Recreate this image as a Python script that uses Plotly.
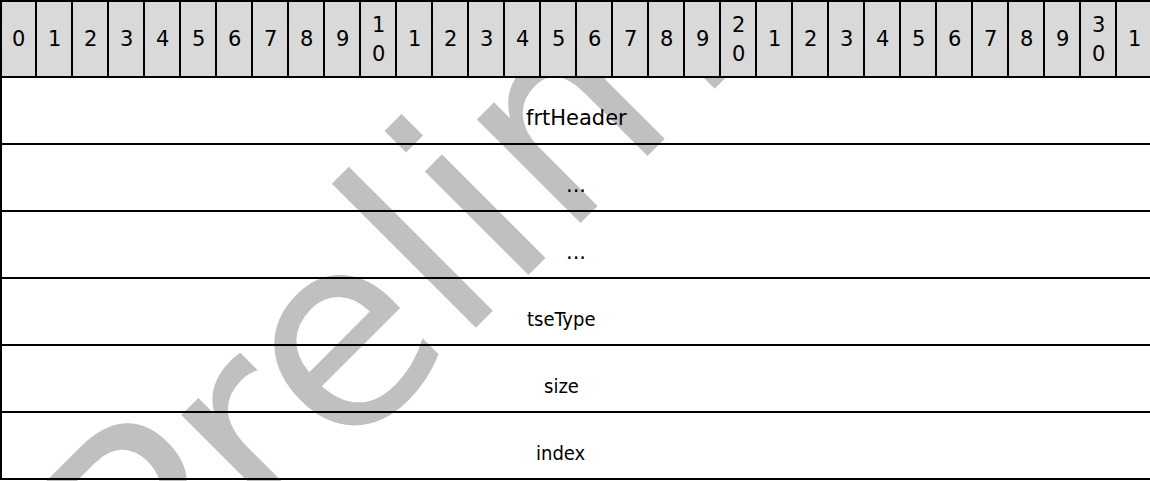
import plotly.graph_objects as go

# ---------------- data ----------------
bit_labels = ["0", "1", "2", "3", "4", "5", "6", "7", "8", "9",
              "10", "1", "2", "3", "4", "5", "6", "7", "8", "9",
              "20", "1", "2", "3", "4", "5", "6", "7", "8", "9",
              "30", "1"]
field_names = ["frtHeader", "...", "...", "tseType", "size", "index"]
field_start_bits = [0, 0, 0, 0, 0, 0]
field_bit_counts = [32, 32, 32, 32, 32, 32]
watermark_text = "Preliminary"

# ---------------- layout / style ----------------
W, H = 1150, 481
CELL_W = 36
HEADER_TOP = 1
HEADER_BOTTOM = 77
ROW_H = 67
LINE_W = 2
FONT = "DejaVu Sans, Verdana, sans-serif"
NARROW_FONT = "DejaVu Sans Condensed, Liberation Sans, sans-serif"
FONT_SIZE = 21
# per-row label styling (the last three labels use a narrower face, set slightly left)
label_font_family = [FONT, FONT, FONT, NARROW_FONT, NARROW_FONT, NARROW_FONT]
label_font_size = [21, 21, 21, 20, 20, 20]
label_xshift = [0, 0, 0, -15, -15, -15]
DIGIT_PITCH = 29
HEADER_FILL = "#d9d9d9"
WM_COLOR = "#c0c0c0"
WM_SIZE = 268
WM_CENTER = (626, 46)

fig = go.Figure()

# watermark (drawn in the plot layer so the table sits on top of it)
fig.add_trace(go.Bar(
    x=[WM_CENTER[0]], y=[2 * WM_CENTER[1]], base=[0], width=[60],
    text=[watermark_text], textposition="inside", insidetextanchor="middle",
    textangle=-45, constraintext="none", cliponaxis=False,
    textfont=dict(family=FONT, size=WM_SIZE, color=WM_COLOR),
    marker=dict(color="rgba(0,0,0,0)", line=dict(width=0)),
    hoverinfo="skip", showlegend=False,
))

shapes = []
annotations = []
n_bits = len(bit_labels)
right = n_bits * CELL_W

# header cell fills
for i in range(n_bits):
    shapes.append(dict(type="rect", layer="above", xref="x", yref="y",
                       x0=i * CELL_W, x1=(i + 1) * CELL_W,
                       y0=HEADER_TOP, y1=HEADER_BOTTOM,
                       fillcolor=HEADER_FILL, line=dict(width=0)))

# header vertical separators
for i in range(1, n_bits + 1):
    shapes.append(dict(type="line", layer="above", xref="x", yref="y",
                       x0=i * CELL_W, x1=i * CELL_W,
                       y0=HEADER_TOP, y1=HEADER_BOTTOM,
                       line=dict(color="black", width=LINE_W)))

n_rows = len(field_names)
table_bottom = HEADER_BOTTOM + n_rows * ROW_H

# outer left border & top border
shapes.append(dict(type="line", layer="above", xref="x", yref="y",
                   x0=1, x1=1, y0=HEADER_TOP - 1, y1=table_bottom + 1,
                   line=dict(color="black", width=LINE_W)))
shapes.append(dict(type="line", layer="above", xref="x", yref="y",
                   x0=0, x1=right + 2, y0=HEADER_TOP, y1=HEADER_TOP,
                   line=dict(color="black", width=LINE_W)))
shapes.append(dict(type="line", layer="above", xref="x", yref="y",
                   x0=0, x1=right + 2, y0=HEADER_BOTTOM, y1=HEADER_BOTTOM,
                   line=dict(color="black", width=LINE_W)))

# header labels (two-digit labels stacked vertically)
header_mid = (HEADER_TOP + HEADER_BOTTOM) / 2
for i, lab in enumerate(bit_labels):
    cx = i * CELL_W + CELL_W / 2
    nchar = len(lab)
    for k, ch in enumerate(lab):
        cy = header_mid + (k - (nchar - 1) / 2) * DIGIT_PITCH
        annotations.append(dict(x=cx, y=cy, xref="x", yref="y", text=ch,
                                showarrow=False, xanchor="center", yanchor="middle",
                                font=dict(family=FONT, size=FONT_SIZE, color="black")))

# field rows
for r, name in enumerate(field_names):
    y0 = HEADER_BOTTOM + r * ROW_H
    y1 = y0 + ROW_H
    shapes.append(dict(type="line", layer="above", xref="x", yref="y",
                       x0=0, x1=right + 2, y0=y1, y1=y1,
                       line=dict(color="black", width=LINE_W)))
    s = field_start_bits[r]
    n = field_bit_counts[r]
    for b in (s, s + n):
        if 0 < b < n_bits:
            shapes.append(dict(type="line", layer="above", xref="x", yref="y",
                               x0=b * CELL_W, x1=b * CELL_W, y0=y0, y1=y1,
                               line=dict(color="black", width=LINE_W)))
    cx = (s + n / 2) * CELL_W
    annotations.append(dict(x=cx, y=(y0 + y1) / 2, xref="x", yref="y", text=name,
                            showarrow=False, xanchor="center", yanchor="middle",
                            yshift=-7, xshift=label_xshift[r],
                            font=dict(family=label_font_family[r],
                                      size=label_font_size[r], color="black")))

fig.update_layout(
    width=W, height=H,
    margin=dict(l=0, r=0, t=0, b=0, pad=0),
    paper_bgcolor="white", plot_bgcolor="white",
    xaxis=dict(range=[0, W], visible=False, fixedrange=True),
    yaxis=dict(range=[H, 0], visible=False, fixedrange=True),
    shapes=shapes, annotations=annotations,
    showlegend=False, bargap=0,
)

fig.write_html("out.html", config={"displayModeBar": False},
               post_script="document.body.style.margin='0';document.body.style.overflow='hidden';")
